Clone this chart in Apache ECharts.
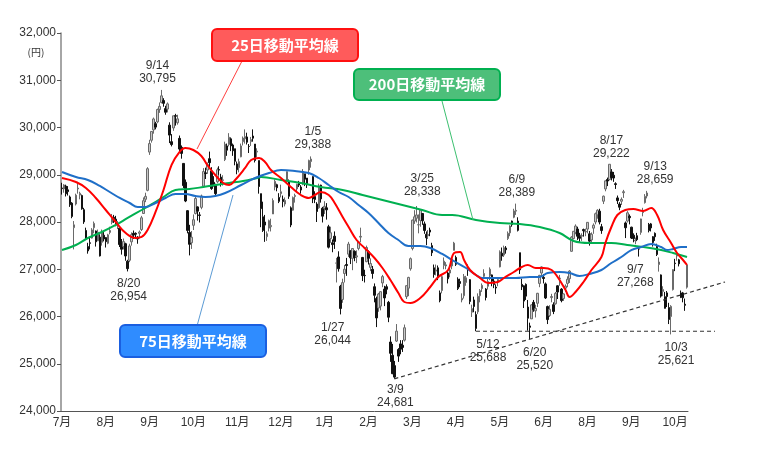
<!DOCTYPE html>
<html><head><meta charset="utf-8">
<script src="https://cdn.jsdelivr.net/npm/echarts@6/dist/echarts.min.js"></script>
<style>html,body{margin:0;padding:0;background:#fff}#c{width:760px;height:460px}</style>
</head><body><div id="c"></div>
<script>
// Each candle: [open, close, low, high]
const jul21 = [[28720,28707,28580,28830],[28700,28783,28620,28800],[28760,28598,28540,28790],[28680,28643,28560,28760],[28530,28366,28320,28560],[28400,28118,28080,28420],[27880,27940,27420,28020],[28380,28569,28350,28600],[28700,28718,28600,28850],[28570,28608,28480,28640],[28560,28279,28260,28580],[28260,28003,27960,28300],[27820,27652,27630,27880],[27480,27388,27330,27560],[27560,27548,27420,27690],[27660,27833,27650,27870],[27880,27970,27760,28010],[27810,27581,27480,27820],[27600,27782,27600,27840],[27680,27283,27270,27740]];
const aug21 = [[27570,27781,27500,27840],[27720,27641,27590,27800],[27670,27584,27460,27680],[27550,27728,27530,27750],[27780,27820,27740,27900],[27990,28070,27950,28170],[28100,28070,27980,28150],[28060,28015,27910,28130],[27930,27977,27850,28020],[27870,27523,27470,27880],[27570,27424,27310,27640],[27480,27585,27420,27650],[27540,27281,27180,27560],[27170,27013,26954,27200],[27190,27494,27150,27540],[27580,27732,27500,27780],[27760,27724,27640,27820],[27760,27742,27640,27780],[27680,27641,27540,27700],[27760,27789,27650,27820],[27840,28089,27810,28130]];
const sep21 = [[28180,28451,28170,28520],[28480,28543,28420,28620],[28670,29128,28650,29160],[29480,29660,29420,29740],[29730,29916,29680,29920],[29950,30181,29870,30210],[30080,30008,29960,30120],[30120,30381,30090,30400],[30380,30447,30310,30530],[30530,30670,30510,30795],[30570,30511,30440,30620],[30400,30323,30270,30460],[30390,30500,30320,30530],[30050,29839,29670,30110],[29700,29639,29600,29860],[29990,30248,29930,30250],[30250,30240,30040,30290],[30100,30183,30060,30270],[29770,29544,29500,29830],[29580,29452,29340,29620]];
const oct21 = [[29240,28771,28720,29240],[28840,28444,28420,28900],[28240,27822,27760,28250],[27780,27528,27293,27940],[27560,27678,27430,27810],[27930,28048,27830,28160],[28180,28498,28160,28530],[28320,28230,28030,28330],[28150,28140,27990,28210],[28310,28550,28270,28580],[28760,29068,28730,29140],[29040,29025,28910,29150],[29100,29215,29020,29260],[29340,29255,29120,29490],[29080,28708,28680,29160],[28840,28804,28750,28970],[28770,28600,28530,28810],[28850,29106,28820,29150],[29110,29098,29000,29180],[28950,28820,28750,29020],[28880,28892,28770,28990]];
const nov21 = [[29320,29647,29290,29700],[29610,29520,29400,29660],[29640,29794,29600,29880],[29760,29611,29500,29790],[29630,29507,29400,29660],[29550,29285,29200,29550],[29230,29106,29010,29280],[29150,29278,29050,29340],[29380,29610,29370,29660],[29700,29777,29620,29810],[29760,29808,29660,29960],[29800,29688,29640,29890],[29600,29598,29460,29650],[29700,29745,29610,29800],[29820,29774,29700,29960],[29650,29302,29260,29650],[29480,29499,29370,29560],[29300,28751,28600,29300],[28600,28283,27890,28600],[28110,27821,27790,28430]];
const dec21 = [[28000,27935,27580,28150],[27690,27753,27600,27800],[27870,28029,27800,28050],[27900,27927,27800,28070],[28170,28455,28170,28500],[28740,28860,28670,28900],[28790,28725,28650,28810],[28520,28437,28400,28610],[28600,28640,28520,28790],[28480,28432,28310,28560],[28380,28459,28330,28520],[28860,29066,28840,29070],[28850,28545,28490,28900],[28300,27937,27890,28330],[28250,28517,28240,28540],[28540,28562,28410,28600],[28700,28798,28630,28810],[28830,28782,28740,28870],[28740,28676,28600,28780],[28800,29069,28780,29120],[29020,28906,28760,29020],[28930,28791,28720,28930]];
const jan22 = [[29100,29301,29000,29320],[29280,29332,29150,29388],[28960,28487,28400,28970],[28540,28478,28400,28650],[28380,28222,28000,28420],[28300,28765,28280,28810],[28780,28489,28410,28790],[28290,28124,27990,28320],[28290,28333,28170,28440],[28300,28257,28050,28400],[27900,27467,27440,27940],[27650,27772,27560,27900],[27560,27522,27360,27630],[27700,27588,27430,27800],[27130,27131,26720,27240],[27260,27011,26950,27380],[26640,26170,26044,26670],[26360,26717,26290,26800],[26910,27001,26720,27090]];
const feb22 = [[27100,27078,26860,27240],[27320,27533,27260,27580],[27390,27241,27110,27400],[27230,27439,26980,27440],[27380,27248,27170,27400],[27260,27284,27130,27400],[27440,27579,27400,27600],[27680,27696,27570,27880],[27250,26865,26750,27260],[26870,26865,26720,26990],[27160,27460,27150,27500],[27370,27232,27100,27400],[27040,27122,26960,27230],[27000,26910,26800,27070],[26630,26449,26300,26700],[26380,25970,25776,26420],[26180,26476,26100,26500],[26220,26526,26130,26530]];
const mar22 = [[26710,26844,26620,26880],[26580,26393,26220,26650],[26630,26577,26470,26680],[26300,25985,25880,26330],[25460,25221,25040,25580],[25180,24790,24780,25420],[24960,24717,24681,25060],[25480,25690,25460,25840],[25300,25162,25040,25330],[25420,25307,25200,25500],[25390,25346,25250,25500],[25500,25762,25470,25830],[26420,26652,26370,26660],[26600,26827,26430,26840],[27010,27224,26970,27250],[27440,28040,27400,28050],[28020,28110,27960,28250],[28080,28149,27990,28338],[27940,27943,27760,28160],[28030,28252,27900,28260],[28180,28027,27940,28190],[27960,27821,27750,28010]];
const apr22 = [[27740,27665,27510,27800],[27710,27736,27640,27830],[27830,27787,27700,27880],[27500,27350,27280,27560],[27030,26888,26820,27100],[26960,26985,26870,27100],[27030,26821,26770,27080],[26500,26335,26300,26550],[26550,26843,26490,26860],[27080,27172,27000,27250],[27070,27093,27000,27150],[26920,26799,26700,26960],[26920,26985,26830,27050],[27070,27218,27000,27240],[27400,27553,27400,27580],[27250,27105,27070,27290],[26790,26590,26560,26830],[26740,26700,26620,26800],[26350,26386,26300,26490],[26440,26848,26380,26900]];
const may22 = [[26720,26819,26650,26860],[27020,27003,26860,27100],[26780,26319,26260,26790],[26090,26167,25990,26250],[26350,26213,26090,26420],[26040,25748,25688,26110],[26100,26427,26050,26490],[26440,26547,26300,26580],[26590,26659,26520,26700],[26850,26911,26800,27000],[26580,26402,26340,26600],[26640,26739,26570,26800],[26860,27001,26770,27040],[26880,26748,26640,26890],[26750,26677,26600,26800],[26620,26604,26480,26680],[26740,26781,26640,26830],[27050,27369,27040,27400],[27340,27279,27180,27460]];
const jun22 = [[27300,27457,27260,27500],[27450,27413,27330,27490],[27650,27761,27620,27800],[27770,27915,27700,27930],[28020,27943,27900,28030],[28100,28234,28080,28280],[28230,28246,28150,28389],[28020,27824,27800,28100],[27350,26987,26900,27350],[26680,26629,26560,26800],[26650,26326,26180,26660],[26680,26431,26350,26700],[26200,25963,25700,26350],[25800,25771,25520,25870],[25950,26246,25950,26260],[26300,26149,26100,26350],[26120,26171,25980,26250],[26280,26491,26200,26500],[26700,26871,26620,26880],[26920,27049,26850,27060],[26830,26804,26700,26900],[26690,26393,26370,26720]];
const jul22 = [[26210,25935,25840,26230],[26020,26153,25990,26240],[26400,26423,26300,26480],[26250,26107,26050,26300],[26270,26490,26250,26520],[26650,26517,26370,26660],[26800,26812,26650,26880],[26580,26336,26300,26600],[26380,26478,26330,26490],[26600,26643,26520,26680],[26700,26788,26620,26850],[26800,26961,26710,26980],[27380,27680,27370,27700],[27650,27803,27630,27810],[27780,27915,27740,27950],[27850,27699,27620,27900],[27720,27655,27580,27770],[27700,27715,27600,27760],[27840,27815,27690,27860],[27790,27801,27700,27860]];
const aug22 = [[27850,27993,27760,28000],[27750,27594,27500,27810],[27620,27741,27550,27780],[27870,27932,27750,27970],[28000,28175,27950,28200],[28150,28249,28070,28270],[28230,27999,27950,28280],[27900,27819,27750,27960],[28440,28546,28380,28560],[28700,28871,28650,28880],[28900,28868,28760,28940],[28900,29222,28880,29222],[29060,28942,28880,29120],[28990,28930,28850,29060],[28810,28794,28700,28840],[28510,28452,28380,28560],[28380,28313,28250,28420],[28440,28479,28360,28520],[28620,28641,28510,28680],[27980,27878,27660,28010],[28020,28195,27990,28230],[28120,28091,27950,28160]];
const sep22 = [[27890,27661,27640,27900],[27720,27650,27570,27760],[27600,27619,27530,27670],[27710,27626,27600,27770],[27430,27430,27268,27470],[27780,28065,27730,28070],[28200,28214,28120,28300],[28410,28542,28390,28590],[28550,28614,28500,28659],[27950,27818,27780,27980],[27960,27875,27800,27980],[27690,27567,27480,27700],[27760,27688,27600,27780],[27490,27313,27280,27540],[27100,27153,26950,27250],[26880,26431,26400,26890],[26530,26571,26430,26640],[26420,26173,26170,26520],[26500,26422,26200,26540],[26190,25937,25840,26290]];
const oct22 = [[26000,26215,25621,26240],[26570,26992,26550,27000],[27130,27120,26960,27220],[27280,27311,27180,27390],[27200,27116,27060,27220],[26500,26401,26390,26550],[26500,26397,26300,26520],[26260,26237,26120,26380],[26620,27090,26590,27130]];

const monthLabels = ['7月','8月','9月','10月','11月','12月','1月','2月','3月','4月','5月','6月','7月','8月','9月','10月'];
const monthCandles = [jul21,aug21,sep21,oct21,nov21,dec21,jan22,feb22,mar22,apr22,may22,jun22,jul22,aug22,sep22,oct22];

// Moving averages: [trading-day index, value]
const ma25 = [[0,28931],[7,28847],[12,28720],[17,28508],[22,28254],[27,28000],[32,27767],[37,27661],[40,27683],[43,27830],[47,28212],[51,28677],[55,29206],[59,29481],[62,29566],[66,29524],[70,29397],[73,29206],[77,28995],[81,28825],[84,28783],[87,28889],[92,29143],[95,29312],[99,29354],[102,29270],[105,29100],[110,28931],[115,28741],[120,28571],[124,28508],[127,28571],[130,28635],[134,28571],[137,28402],[141,28106],[144,27894],[148,27619],[152,27450],[157,27238],[161,27026],[165,26772],[169,26497],[172,26307],[175,26286],[180,26392],[185,26624],[189,26836],[194,26984],[197,27344],[200,27365],[202,27196],[205,26984],[210,26815],[214,26709],[219,26730],[222,26815],[227,26942],[231,27048],[234,27090],[238,27026],[242,27026],[246,26984],[249,26836],[253,26561],[255,26413],[258,26519],[262,26730],[266,26984],[271,27259],[273,27556],[276,27894],[279,28148],[283,28254],[287,28275],[292,28233],[296,28296],[299,28148],[302,27830],[306,27556],[309,27344],[312,27196],[314,27090]];
const ma75 = [[0,29058],[7,28952],[13,28889],[19,28762],[24,28635],[29,28508],[34,28402],[38,28317],[42,28317],[47,28402],[52,28508],[57,28593],[62,28593],[67,28550],[72,28529],[77,28550],[82,28614],[90,28783],[97,28931],[104,29037],[110,29100],[117,29079],[124,29037],[129,28931],[134,28783],[139,28635],[144,28529],[149,28360],[154,28191],[159,27979],[164,27767],[169,27619],[174,27492],[180,27492],[185,27450],[191,27323],[196,27196],[203,27026],[208,26878],[211,26815],[220,26815],[228,26815],[235,26836],[240,26836],[244,26921],[250,26942],[255,26921],[260,26857],[265,26900],[271,26984],[276,27132],[281,27259],[286,27407],[291,27471],[296,27534],[301,27471],[304,27407],[307,27429],[311,27471],[314,27471]];
const ma200 = [[0,27407],[7,27513],[13,27661],[20,27788],[27,27937],[33,28085],[40,28254],[46,28402],[51,28529],[57,28677],[64,28698],[71,28741],[77,28783],[84,28825],[91,28868],[98,28931],[100,28952],[110,28889],[120,28825],[130,28741],[141,28677],[151,28571],[161,28466],[171,28360],[181,28254],[191,28148],[196,28148],[208,28042],[220,27979],[230,27958],[240,27894],[250,27767],[257,27598],[265,27556],[276,27556],[284,27513],[292,27471],[301,27407],[307,27344],[314,27259]];

// Annotated highs/lows: [trading-day index, value, date text]
const notes = [[50,30795,'9/14'],[33,26954,'8/20'],[125,29388,'1/5'],[140,26044,'1/27'],[167,24681,'3/9'],[178,28338,'3/25'],[228,28389,'6/9'],[275,29222,'8/17'],[294,28659,'9/13'],[290,27268,'9/7'],[208,25688,'5/12'],[235,25520,'6/20'],[306,25621,'10/3']];
const noteOffsets = [[-4,-18],[1,19],[2,-18],[-8,20],[1,17],[6,-21],[1,-17],[2,-17],[8,-18],[-4,20],[12,20],[5,20],[5,20]];

const yTicks = [24000,25000,26000,27000,28000,29000,30000,31000,32000];

const categories = [], candles = [];
monthCandles.forEach((arr, m) => arr.forEach((d, k) => { categories.push(monthLabels[m] + '-' + (k + 1)); candles.push(d); }));

const fmt = v => String(v).replace(/\B(?=(\d{3})+(?!\d))/g, ',');
const FONT = '"Liberation Sans","Noto Sans CJK JP",sans-serif';

const chart = echarts.init(document.getElementById('c'), null, {renderer: 'canvas'});
chart.setOption({
  animation: false,
  backgroundColor: '#fff',
  grid: {left: 61, right: 72, top: 33, bottom: 49},
  xAxis: {
    type: 'category', data: categories, boundaryGap: true,
    axisLine: {lineStyle: {color: '#555', width: 1}},
    axisTick: {interval: 3, length: 3, lineStyle: {color: '#555'}},
    axisLabel: {interval: 21, formatter: v => v.split('-')[0], color: '#333', fontSize: 12, fontFamily: FONT, margin: 6},
    splitLine: {show: false}
  },
  yAxis: {
    type: 'value', min: yTicks[0], max: yTicks[yTicks.length - 1], interval: 1000,
    axisLine: {show: true, lineStyle: {color: '#888', width: 1.5}},
    axisTick: {show: true, length: 4, lineStyle: {color: '#555'}},
    axisLabel: {formatter: fmt, color: '#333', fontSize: 12, fontFamily: FONT, margin: 5},
    splitLine: {show: false}
  },
  series: [
    {
      type: 'candlestick', data: candles, barWidth: 2,
      itemStyle: {color: '#c8c8c8', borderColor: '#6a6a6a', color0: '#111', borderColor0: '#111', borderWidth: 1},
      markPoint: {
        symbol: 'circle', symbolSize: 1, itemStyle: {color: 'rgba(0,0,0,0)'},
        data: notes.map((n, i) => ({
          coord: [n[0], n[1]],
          label: {show: true, position: 'inside', offset: noteOffsets[i], formatter: n[2] + '\n' + fmt(n[1]),
                  color: '#333', fontSize: 12, lineHeight: 13, fontFamily: FONT, align: 'center'}
        }))
      }
    },
    {type: 'line', data: ma200, smooth: 0.4, symbol: 'none', lineStyle: {color: '#00B050', width: 2}, z: 3},
    {type: 'line', data: ma75, smooth: 0.4, symbol: 'none', lineStyle: {color: '#1F6FC8', width: 2}, z: 4},
    {type: 'line', data: ma25, smooth: 0.4, symbol: 'none', lineStyle: {color: '#FF0000', width: 2}, z: 5}
  ]
});

// Trend lines anchored to the 3/9 and 6/20 lows, and the 5/12 low level
const pA = chart.convertToPixel({gridIndex: 0}, [notes[4][0], notes[4][1]]);
const pB = chart.convertToPixel({gridIndex: 0}, [notes[11][0], notes[11][1]]);
const pH = chart.convertToPixel({gridIndex: 0}, [notes[10][0], notes[10][1]]);
const xEnd = 725, slope = (pB[1] - pA[1]) / (pB[0] - pA[0]);
const dashStyle = {stroke: '#333', lineWidth: 1.2, lineDash: [4, 3]};

function callout(x, y, w, h, fill, stroke, text) {
  return [
    {type: 'rect', shape: {x: x, y: y, width: w, height: h, r: 5}, style: {fill: fill, stroke: stroke, lineWidth: 2}, z: 100},
    {type: 'text', x: x + w / 2, y: y + h / 2, style: {text: text, fill: '#fff', font: 'bold 15px "Noto Sans CJK JP"', textAlign: 'center', textVerticalAlign: 'middle'}, z: 101}
  ];
}

chart.setOption({
  graphic: [
    {type: 'line', shape: {x1: pA[0], y1: pA[1], x2: xEnd, y2: pA[1] + slope * (xEnd - pA[0])}, style: dashStyle, z: 50},
    {type: 'line', shape: {x1: pH[0], y1: pH[1], x2: 715, y2: pH[1]}, style: dashStyle, z: 50},
    {type: 'line', shape: {x1: 242, y1: 61, x2: 197, y2: 149}, style: {stroke: '#FF4040', lineWidth: 1}, z: 60},
    {type: 'line', shape: {x1: 442, y1: 101, x2: 473, y2: 220}, style: {stroke: '#3CC070', lineWidth: 1}, z: 60},
    {type: 'line', shape: {x1: 197, y1: 326, x2: 233, y2: 195}, style: {stroke: '#5B9BD5', lineWidth: 1}, z: 60},
    ...callout(212, 29, 146, 32, '#FF5B5B', '#FF1010', '25日移動平均線'),
    ...callout(354, 69, 146, 31, '#4DBF7A', '#00B050', '200日移動平均線'),
    ...callout(120, 325, 146, 32, '#2F8CFF', '#1A5FE0', '75日移動平均線'),
    {type: 'text', x: 36, y: 52, style: {text: '(円)', fill: '#333', font: '10px "Noto Sans CJK JP"', textAlign: 'center', textVerticalAlign: 'middle'}}
  ]
});
</script></body></html>
